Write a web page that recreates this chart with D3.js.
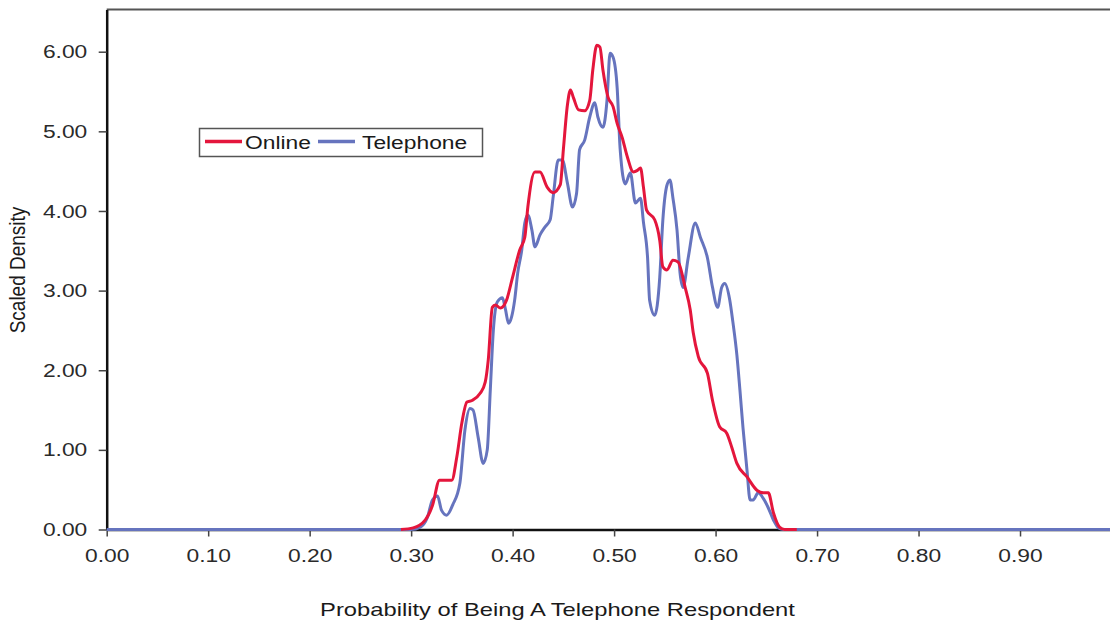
<!DOCTYPE html>
<html>
<head>
<meta charset="utf-8">
<script src="https://cdn.jsdelivr.net/npm/d3@7/dist/d3.min.js"></script>
<style>
  html, body { margin: 0; padding: 0; background: #fff; }
  svg { display: block; font-family: "Liberation Sans", Arial, sans-serif; }
</style>
</head>
<body>
<svg id="chart" width="1110" height="623"></svg>
<script>
// ---- Data ----
const xTicks = [0, 0.1, 0.2, 0.3, 0.4, 0.5, 0.6, 0.7, 0.8, 0.9];
const yTicks = [0, 1, 2, 3, 4, 5, 6];
const seriesNames = ["Online", "Telephone"];
const xTitle = "Probability of Being A Telephone Respondent";
const yTitle = "Scaled Density";

const onlineX = [0.290, 0.302, 0.314, 0.321, 0.328, 0.340, 0.345, 0.350, 0.355, 0.360, 0.368, 0.373, 0.376, 0.380, 0.383, 0.388, 0.394, 0.400, 0.407, 0.412, 0.415, 0.422, 0.427, 0.434, 0.440, 0.447, 0.450, 0.454, 0.457, 0.460, 0.465, 0.471, 0.476, 0.479, 0.483, 0.486, 0.489, 0.494, 0.499, 0.503, 0.508, 0.513, 0.519, 0.523, 0.526, 0.529, 0.532, 0.540, 0.545, 0.548, 0.552, 0.558, 0.563, 0.570, 0.575, 0.578, 0.583, 0.592, 0.597, 0.604, 0.611, 0.616, 0.621, 0.631, 0.641, 0.647, 0.652, 0.657, 0.663, 0.668, 0.680];
const onlineY = [0.00, 0.02, 0.12, 0.30, 0.62, 0.62, 0.91, 1.34, 1.60, 1.62, 1.71, 1.85, 2.13, 2.79, 2.82, 2.78, 2.88, 3.17, 3.51, 3.67, 4.05, 4.49, 4.49, 4.30, 4.23, 4.33, 4.77, 5.33, 5.52, 5.42, 5.27, 5.26, 5.39, 5.77, 6.08, 6.06, 5.77, 5.43, 5.31, 5.10, 4.92, 4.68, 4.49, 4.51, 4.54, 4.29, 4.01, 3.89, 3.63, 3.30, 3.26, 3.38, 3.36, 3.04, 2.76, 2.47, 2.17, 1.96, 1.62, 1.29, 1.21, 1.03, 0.83, 0.66, 0.49, 0.46, 0.46, 0.21, 0.03, 0.00, 0.00];

const telephoneX = [0.000, 0.300, 0.309, 0.316, 0.321, 0.326, 0.330, 0.335, 0.341, 0.348, 0.353, 0.358, 0.361, 0.366, 0.371, 0.375, 0.378, 0.381, 0.385, 0.390, 0.393, 0.396, 0.399, 0.402, 0.405, 0.409, 0.412, 0.415, 0.419, 0.422, 0.427, 0.432, 0.437, 0.440, 0.445, 0.449, 0.454, 0.459, 0.463, 0.466, 0.471, 0.476, 0.481, 0.484, 0.489, 0.493, 0.496, 0.499, 0.503, 0.506, 0.511, 0.516, 0.521, 0.526, 0.529, 0.533, 0.535, 0.540, 0.545, 0.548, 0.552, 0.555, 0.558, 0.562, 0.565, 0.568, 0.573, 0.580, 0.585, 0.592, 0.597, 0.602, 0.606, 0.609, 0.614, 0.617, 0.621, 0.624, 0.627, 0.631, 0.634, 0.637, 0.642, 0.647, 0.652, 0.657, 0.662, 0.667, 1.000];
const telephoneY = [0.00, 0.00, 0.03, 0.15, 0.37, 0.42, 0.24, 0.18, 0.31, 0.58, 1.25, 1.52, 1.50, 1.16, 0.83, 1.00, 1.75, 2.50, 2.86, 2.91, 2.76, 2.59, 2.67, 2.88, 3.22, 3.51, 3.85, 3.95, 3.76, 3.55, 3.70, 3.80, 3.89, 4.18, 4.64, 4.64, 4.35, 4.05, 4.22, 4.77, 4.89, 5.18, 5.36, 5.18, 5.05, 5.39, 5.98, 5.93, 5.55, 4.77, 4.34, 4.48, 4.10, 4.16, 3.85, 3.41, 2.88, 2.69, 3.17, 3.88, 4.32, 4.39, 4.16, 3.76, 3.22, 3.04, 3.41, 3.85, 3.67, 3.41, 3.04, 2.79, 3.04, 3.09, 2.88, 2.61, 2.19, 1.75, 1.28, 0.74, 0.37, 0.37, 0.46, 0.39, 0.27, 0.12, 0.02, 0.00, 0.00];

const colors = { Online: "#e4163c", Telephone: "#6674be" };

// ---- Layout ----
const svg = d3.select("#chart");
const SX = 1.2; // horizontal stretch of the reference text

const x = d3.scaleLinear().domain([0, 1]).range([106.7, 1121.5]);
const y = d3.scaleLinear().domain([0, 6.53]).range([529.5, 9.5]);

// Top frame line
svg.append("line")
  .attr("x1", x(0)).attr("x2", x(1))
  .attr("y1", y(6.53)).attr("y2", y(6.53))
  .attr("stroke", "#555").attr("stroke-width", 2);

// X axis
const gx = svg.append("g")
  .attr("transform", `translate(0,${y(0)})`)
  .call(d3.axisBottom(x).tickValues(xTicks).tickFormat(d3.format(".2f"))
        .tickSize(7).tickSizeOuter(0).tickPadding(12.5));
gx.select(".domain").attr("stroke", "#111").attr("stroke-width", 2.5);
gx.selectAll(".tick line").attr("stroke", "#444").attr("stroke-width", 1.5);
gx.selectAll(".tick text")
  .attr("fill", "#2a2a2a").style("font-size", "19px")
  .attr("transform", `scale(${SX},1)`);

// Y axis
const gy = svg.append("g")
  .attr("transform", `translate(${x(0)},0)`)
  .call(d3.axisLeft(y).tickValues(yTicks).tickFormat(d3.format(".2f"))
        .tickSize(8).tickSizeOuter(0));
gy.select(".domain").attr("stroke", "#111").attr("stroke-width", 2.5);
gy.selectAll(".tick line").attr("stroke", "#444").attr("stroke-width", 1.5);
gy.selectAll(".tick text")
  .attr("x", -16.2)
  .attr("fill", "#2a2a2a").style("font-size", "19px")
  .attr("transform", `scale(${SX},1)`);

// Lines
const line = d3.line().x(d => x(d[0])).y(d => y(d[1])).curve(d3.curveMonotoneX);
const telData = telephoneX.map((v, i) => [v, telephoneY[i]]);
const onlData = onlineX.map((v, i) => [v, onlineY[i]]);

svg.append("path").datum(telData)
  .attr("d", line).attr("fill", "none")
  .attr("stroke", colors.Telephone).attr("stroke-width", 3)
  .attr("stroke-linejoin", "round");
svg.append("path").datum(onlData)
  .attr("d", line).attr("fill", "none")
  .attr("stroke", colors.Online).attr("stroke-width", 3)
  .attr("stroke-linejoin", "round");

// Axis titles
svg.append("g").attr("transform", `translate(557.5,616) scale(1.25,1)`)
  .append("text").attr("text-anchor", "middle")
  .attr("fill", "#1a1a1a").style("font-size", "19px").text(xTitle);

svg.append("g").attr("transform", `translate(25,270) rotate(-90) scale(1,1.15)`)
  .append("text").attr("text-anchor", "middle")
  .attr("fill", "#1a1a1a").style("font-size", "19px").text(yTitle);

// Legend
const leg = svg.append("g");
leg.append("rect").attr("x", 199.5).attr("y", 128.5).attr("width", 283).attr("height", 28)
  .attr("fill", "#fff").attr("stroke", "#555").attr("stroke-width", 1.5);
const legItems = [
  { name: seriesNames[0], lx: 205, tx: 245 },
  { name: seriesNames[1], lx: 318, tx: 362 }
];
legItems.forEach(it => {
  leg.append("line").attr("x1", it.lx).attr("x2", it.lx + 37)
    .attr("y1", 141.5).attr("y2", 141.5)
    .attr("stroke", colors[it.name]).attr("stroke-width", 3.5);
  leg.append("g").attr("transform", `translate(${it.tx},149) scale(${SX},1)`)
    .append("text").attr("fill", "#1a1a1a").style("font-size", "19px").text(it.name);
});
</script>
</body>
</html>
